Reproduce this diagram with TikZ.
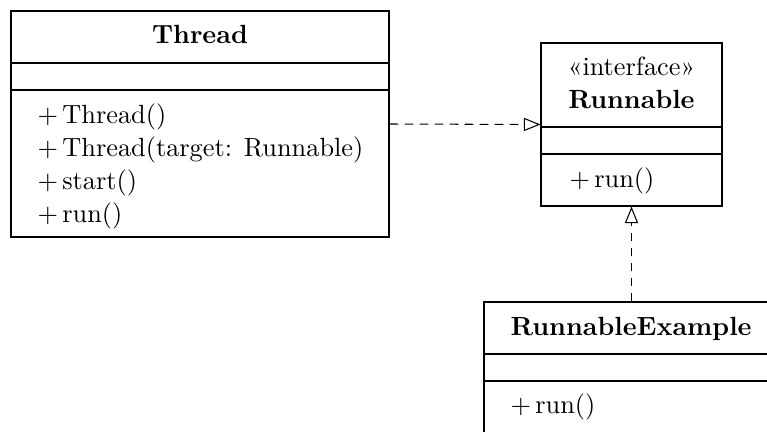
\documentclass[tikz,border=0pt]{standalone}
\usetikzlibrary{arrows.meta}
\newdimen\px
\px=0.38pt
\begin{document}
\begin{tikzpicture}[x=0.38pt,y=-0.38pt,
  classbox/.style={draw, line width=0.4pt, rectangle, inner sep=0pt},
  realize/.style={draw, line width=0.4pt, dash pattern=on 3.4pt off 2.3pt,
    -{Triangle[open, length=6.3pt, width=5pt]}},
  member/.style={anchor=base west, inner sep=0pt},
  title/.style={anchor=base, inner sep=0pt, font=\bfseries}]
\useasboundingbox (0,0) rectangle (767,431);
\clip (0,0) rectangle (767,431);

% Thread class
\node[classbox, minimum width=378\px, minimum height=226\px] (thread) at (200,124) {};
\draw (thread.west |- 0,63) -- (thread.east |- 0,63);
\draw (thread.west |- 0,90) -- (thread.east |- 0,90);
\node[title] (threadname) at (200,43) {Thread};
\node[member] (m1) at (37,123) {$+$\,Thread()};
\node[member] (m2) at (37,156) {$+$\,Thread(target: Runnable)};
\node[member] (m3) at (37,189) {$+$\,start()};
\node[member] (m4) at (37,222) {$+$\,run()};

% Runnable interface
\node[classbox, minimum width=181\px, minimum height=163\px] (runnable) at (631.5,124.5) {};
\draw (runnable.west |- 0,127) -- (runnable.east |- 0,127);
\draw (runnable.west |- 0,154) -- (runnable.east |- 0,154);
\node[anchor=base, inner sep=0pt] (stereo) at (631.5,75) {«interface»};
\node[title] (runnablename) at (631.5,108) {Runnable};
\node[member] (r1) at (569,187) {$+$\,run()};

% RunnableExample class
\node[classbox, minimum width=296\px, minimum height=131\px] (example) at (632,367.5) {};
\draw (example.west |- 0,354) -- (example.east |- 0,354);
\draw (example.west |- 0,381) -- (example.east |- 0,381);
\node[title] (examplename) at (631,335) {RunnableExample};
\node[member] (e1) at (510,413) {$+$\,run()};

% realization connectors
\draw[realize] (thread.east) -- (runnable.west);
\draw[realize] (example.north -| runnable.south) -- (runnable.south);
\end{tikzpicture}
\end{document}
